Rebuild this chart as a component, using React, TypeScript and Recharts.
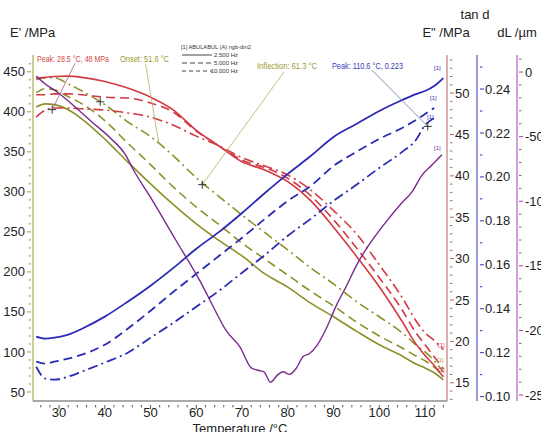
import { LineChart, Line, XAxis, YAxis, ReferenceLine, ReferenceDot } from 'recharts';

// temperature grid, °C
const temps = [25, 27, 29, 32, 35, 40, 45, 50, 55, 60, 65, 70, 75, 80, 85, 90, 95, 100, 105, 108, 110, 112, 114];

// E' /MPa
const storage2500 = [406, 410, 409, 402.5, 391, 366, 337.5, 310, 284, 260, 239, 220, 197.5, 181, 161, 144, 126, 109, 95, 85, 80, 74, 65];
const storage5000 = [424, 429, 427.5, 419, 410, 389, 361, 334, 306, 281, 259, 236, 216, 196, 176, 157.5, 137.5, 120, 105, 95, 89, 81, 70];
const storage10000 = [440, 442.5, 442.5, 435, 426, 409, 387.5, 369, 345, 317.5, 294, 271, 249, 227.5, 205, 185, 163, 144, 124, 109, 100, 89, 75];

// E" /MPa
const loss2500 = [51.8, 51.9, 52.0, 52.05, 51.9, 51.4, 50.6, 49.5, 47.95, 45.5, 43.6, 41.7, 40.7, 39.3, 37.0, 33.8, 30.3, 26.6, 22.4, 19.7, 18.3, 17.1, 15.7];
const loss5000 = [49.8, 49.8, 49.9, 49.9, 49.8, 49.5, 49.4, 48.8, 47.7, 45.4, 43.6, 41.9, 41.0, 39.7, 37.6, 34.7, 31.3, 27.7, 23.8, 21.05, 19.6, 18.15, 16.7];
const loss10000 = [47.1, 47.95, 48.2, 48.2, 48.1, 47.95, 47.6, 47.1, 46.1, 44.8, 43.6, 42.2, 41.2, 40.1, 38.3, 35.8, 33.0, 29.25, 25.3, 22.5, 21.05, 20.1, 19.0];

// tan d
const tan2500 = [0.1273, 0.1264, 0.1268, 0.1282, 0.1309, 0.1364, 0.1432, 0.1505, 0.1586, 0.1673, 0.175, 0.1836, 0.1927, 0.2014, 0.2095, 0.2182, 0.2241, 0.23, 0.235, 0.2377, 0.2391, 0.2414, 0.245];
const tan5000 = [0.1159, 0.115, 0.1159, 0.1173, 0.1191, 0.1236, 0.1309, 0.1391, 0.1477, 0.1559, 0.1641, 0.1723, 0.1809, 0.1891, 0.1959, 0.205, 0.2114, 0.2173, 0.2223, 0.2259, 0.2286, 0.2314, null];
const tan10000 = [0.1136, 0.1082, 0.1077, 0.1091, 0.1114, 0.1155, 0.12, 0.1268, 0.1336, 0.1409, 0.1482, 0.1564, 0.1645, 0.1732, 0.1809, 0.1891, 0.1964, 0.2041, 0.2114, 0.2168, 0.2236, 0.2268, null];

// dL /µm (own temperature grid)
const dlTemps = [25, 26.9, 29.8, 33.5, 37.3, 41.2, 44.5, 46.3, 50, 55.5, 61, 63.9, 66.5, 69.6, 72, 73.7, 74.8, 76.2, 77.9, 79, 80.3, 81.9, 83.4, 84.7, 86.3, 88.2, 90.7, 92.9, 95.1, 97.3, 99.5, 101.7, 105, 107.1, 109.3, 111.5, 113.7];
const dlValues = [-3, -9, -16, -27, -39, -51, -64, -76, -97, -130, -163, -183, -200, -213, -229, -231, -232, -240, -234, -232, -234, -229, -220, -218, -212, -200, -180, -165, -149, -136, -125, -115, -101, -93, -80, -72, -64];

// axis ticks
const tempTicks = [30, 40, 50, 60, 70, 80, 90, 100, 110];
const storageTicks = [50, 100, 150, 200, 250, 300, 350, 400, 450];
const lossTicks = [15, 20, 25, 30, 35, 40, 45, 50];
const tanTicks = [0.1, 0.12, 0.14, 0.16, 0.18, 0.2, 0.22, 0.24];
const dlTicks = [-250, -200, -150, -100, -50, 0];

const OLIVE = '#8f8f28';
const RED = '#d23a44';
const BLUE = '#2a2ab4';
const PURPLE = '#7a2a8c';
const DASH = '9 5';
const DASHDOT = '10 4 2 4';
const FONT = '"Liberation Sans", Arial, sans-serif';

const data = temps.map((t, i) => ({
  t,
  s1: storage2500[i], s2: storage5000[i], s3: storage10000[i],
  l1: loss2500[i], l2: loss5000[i], l3: loss10000[i],
  d1: tan2500[i], d2: tan5000[i], d3: tan10000[i],
}));
const dlData = dlTemps.map((t, i) => ({ t, dl: dlValues[i] }));

function steps(from: number, to: number, step: number) {
  const out: number[] = [];
  const n = Math.round((to - from) / step);
  for (let i = 0; i <= n; i++) out.push(+(from + i * step).toFixed(4));
  return out;
}

function makeTick(side: string, majors: number[], fmt: (v: number) => string, size: number, gap: number, color: string) {
  return (props: any) => {
    const { x = 0, y = 0, payload } = props;
    const v = payload?.value;
    const major = majors.some(m => Math.abs(m - v) < 1e-6);
    const len = major ? size : size * 0.6;
    if (side === 'left') {
      const ax = x + size + gap;
      return (
        <g>
          <line x1={ax} x2={ax - len} y1={y} y2={y} stroke={color} />
          {major && <text x={x} y={y} dy="0.35em" textAnchor="end" fontSize={13} fontFamily={FONT} fill="#222">{fmt(v)}</text>}
        </g>
      );
    }
    if (side === 'right') {
      const ax = x - size - gap;
      return (
        <g>
          <line x1={ax} x2={ax + len} y1={y} y2={y} stroke={color} />
          {major && <text x={x} y={y} dy="0.35em" textAnchor="start" fontSize={13} fontFamily={FONT} fill="#222">{fmt(v)}</text>}
        </g>
      );
    }
    const ay = y - size - gap;
    return (
      <g>
        <line x1={x} x2={x} y1={ay} y2={ay + len} stroke={color} />
        {major && <text x={x} y={y} dy="0.64em" textAnchor="middle" fontSize={13} fontFamily={FONT} fill="#222">{fmt(v)}</text>}
      </g>
    );
  };
}

const cross = (p: any) => (
  <path d={`M${p.cx - 4},${p.cy}h8M${p.cx},${p.cy - 4}v8`} stroke="#333" strokeWidth={1} />
);

export default function App() {
  return (
    <div style={{ position: 'absolute', left: 0, top: 0, width: 541, height: 432, background: '#fff', overflow: 'hidden' }}>
      <LineChart width={541} height={432} data={data} margin={{ top: 55, right: 0, bottom: 0, left: 0 }}>
        <XAxis
          dataKey="t" type="number" domain={[24.3, 114.8]} allowDataOverflow
          ticks={steps(26, 114, 2)} interval={0} height={31}
          axisLine={{ stroke: '#555' }} tickLine={false}
          tick={makeTick('bottom', tempTicks, v => String(v), 4, 0, '#555')}
        />
        <YAxis
          yAxisId="a_e" orientation="left" type="number" domain={[38.75, 471]} allowDataOverflow
          ticks={steps(50, 460, 10)} interval={0} width={33}
          axisLine={{ stroke: '#9a9a30' }} tickLine={false}
          tick={makeTick('left', storageTicks, v => String(v), 4, 2, '#9a9a30')}
        />
        <YAxis
          yAxisId="r1_loss" orientation="right" type="number" domain={[12.8, 54.6]} allowDataOverflow
          ticks={steps(13, 54, 1)} interval={0} width={30}
          axisLine={{ stroke: '#b86060' }} tickLine={false}
          tick={makeTick('right', lossTicks, v => String(v), 4, 1, '#b86060')}
        />
        <YAxis
          yAxisId="r2_tan" orientation="right" type="number" domain={[0.098, 0.2555]} allowDataOverflow
          ticks={steps(0.1, 0.25, 0.01)} interval={0} width={40}
          axisLine={{ stroke: '#3232c0' }} tickLine={false}
          tick={makeTick('right', tanTicks, v => v.toFixed(2), 4, 1, '#3232c0')}
        />
        <YAxis
          yAxisId="r3_dl" orientation="right" type="number" domain={[-254.6, 13.2]} allowDataOverflow
          ticks={steps(-250, 10, 10)} interval={0} width={24}
          axisLine={{ stroke: '#a040b0' }} tickLine={false}
          tick={makeTick('right', dlTicks, v => String(v), 4, 2, '#a040b0')}
        />

        <Line yAxisId="a_e" dataKey="s1" type="monotone" stroke={OLIVE} strokeWidth={1.6} dot={false} isAnimationActive={false} />
        <Line yAxisId="a_e" dataKey="s2" type="monotone" stroke={OLIVE} strokeWidth={1.6} strokeDasharray={DASH} dot={false} isAnimationActive={false} />
        <Line yAxisId="a_e" dataKey="s3" type="monotone" stroke={OLIVE} strokeWidth={1.6} strokeDasharray={DASHDOT} dot={false} isAnimationActive={false} />

        <Line yAxisId="r1_loss" dataKey="l1" type="monotone" stroke={RED} strokeWidth={1.6} dot={false} isAnimationActive={false} />
        <Line yAxisId="r1_loss" dataKey="l2" type="monotone" stroke={RED} strokeWidth={1.6} strokeDasharray={DASH} dot={false} isAnimationActive={false} />
        <Line yAxisId="r1_loss" dataKey="l3" type="monotone" stroke={RED} strokeWidth={1.6} strokeDasharray={DASHDOT} dot={false} isAnimationActive={false} />

        <Line yAxisId="r2_tan" dataKey="d1" type="monotone" stroke={BLUE} strokeWidth={1.8} dot={false} isAnimationActive={false} />
        <Line yAxisId="r2_tan" dataKey="d2" type="monotone" stroke={BLUE} strokeWidth={1.8} strokeDasharray={DASH} dot={false} isAnimationActive={false} />
        <Line yAxisId="r2_tan" dataKey="d3" type="monotone" stroke={BLUE} strokeWidth={1.8} strokeDasharray={DASHDOT} dot={false} isAnimationActive={false} />

        <Line yAxisId="r3_dl" data={dlData} dataKey="dl" type="monotone" stroke={PURPLE} strokeWidth={1.4} dot={false} isAnimationActive={false} />

        {/* annotation leaders */}
        <ReferenceLine yAxisId="r1_loss" segment={[{ x: 33.5, y: 53.6 }, { x: 28.5, y: 48 }]} stroke="#9a6080" strokeWidth={0.8} />
        <ReferenceLine yAxisId="a_e" segment={[{ x: 48.9, y: 460 }, { x: 51.8, y: 361 }]} stroke="#b0b060" strokeWidth={0.8} />
        <ReferenceLine yAxisId="a_e" segment={[{ x: 79.2, y: 450 }, { x: 61.3, y: 309 }]} stroke="#b0b060" strokeWidth={0.8} />
        <ReferenceLine yAxisId="r2_tan" segment={[{ x: 98.4, y: 0.2486 }, { x: 110.6, y: 0.223 }]} stroke="#6a70a0" strokeWidth={0.8} />
        <ReferenceDot yAxisId="r1_loss" x={28.5} y={48} r={4} shape={cross} />
        <ReferenceDot yAxisId="a_e" x={39} y={412.5} r={4} shape={cross} />
        <ReferenceDot yAxisId="a_e" x={61.3} y={309} r={4} shape={cross} />
        <ReferenceDot yAxisId="r2_tan" x={110.6} y={0.223} r={4} shape={cross} />
      </LineChart>

      <svg width={541} height={432} style={{ position: 'absolute', left: 0, top: 0, pointerEvents: 'none' }} fontFamily={FONT}>
        <text x={10} y={37} fontSize={13} fill="#222">E' /MPa</text>
        <text x={475} y={19} fontSize={13} fill="#222" textAnchor="middle">tan d</text>
        <text x={446} y={37} fontSize={13} fill="#222" textAnchor="middle">E" /MPa</text>
        <text x={517} y={37} fontSize={13} fill="#222" textAnchor="middle">dL /µm</text>
        <text x={240} y={433} fontSize={13} fill="#222" textAnchor="middle">Temperature /°C</text>

        <text x={37} y={62} fontSize={8.5} fill="#d04848" textLength={72} lengthAdjust="spacingAndGlyphs">Peak: 28.5 °C, 48 MPa</text>
        <text x={120} y={62} fontSize={8.5} fill="#9a9a30" textLength={49} lengthAdjust="spacingAndGlyphs">Onset: 51.6 °C</text>
        <text x={257} y={69} fontSize={8.5} fill="#9a9a30" textLength={60} lengthAdjust="spacingAndGlyphs">Inflection: 61.3 °C</text>
        <text x={332} y={69} fontSize={8.5} fill="#3a3ab8" textLength={71} lengthAdjust="spacingAndGlyphs">Peak: 110.6 °C, 0.223</text>

        <text x={181} y={49} fontSize={6} fill="#333" textLength={70} lengthAdjust="spacingAndGlyphs">[1] ABULABUL (A) ngb-dm2</text>
        <line x1={182} x2={212} y1={55} y2={55} stroke="#444" strokeWidth={1} />
        <line x1={182} x2={212} y1={63} y2={63} stroke="#444" strokeWidth={1} strokeDasharray="5 3" />
        <line x1={182} x2={212} y1={71} y2={71} stroke="#444" strokeWidth={1} strokeDasharray="4 3" />
        <text x={238} y={57} fontSize={6} fill="#333" textAnchor="end">2.500 Hz</text>
        <text x={238} y={65} fontSize={6} fill="#333" textAnchor="end">5.000 Hz</text>
        <text x={238} y={73} fontSize={6} fill="#333" textAnchor="end">10.000 Hz</text>

        {/* curve end markers */}
        <text x={434} y={70} fontSize={6} fill={BLUE}>[1]</text>
        <text x={430} y={100} fontSize={6} fill={BLUE}>[1]</text>
        <text x={427} y={119} fontSize={6} fill={BLUE}>[1]</text>
        <text x={434} y={150} fontSize={6} fill={PURPLE}>[1]</text>
        <text x={436} y={347} fontSize={6} fill={RED}>-[1]</text>
        <text x={437} y={362} fontSize={6} fill="#c09040">[1]</text>
        <text x={438} y={372} fontSize={6} fill={RED}>[1]</text>
      </svg>
    </div>
  );
}
